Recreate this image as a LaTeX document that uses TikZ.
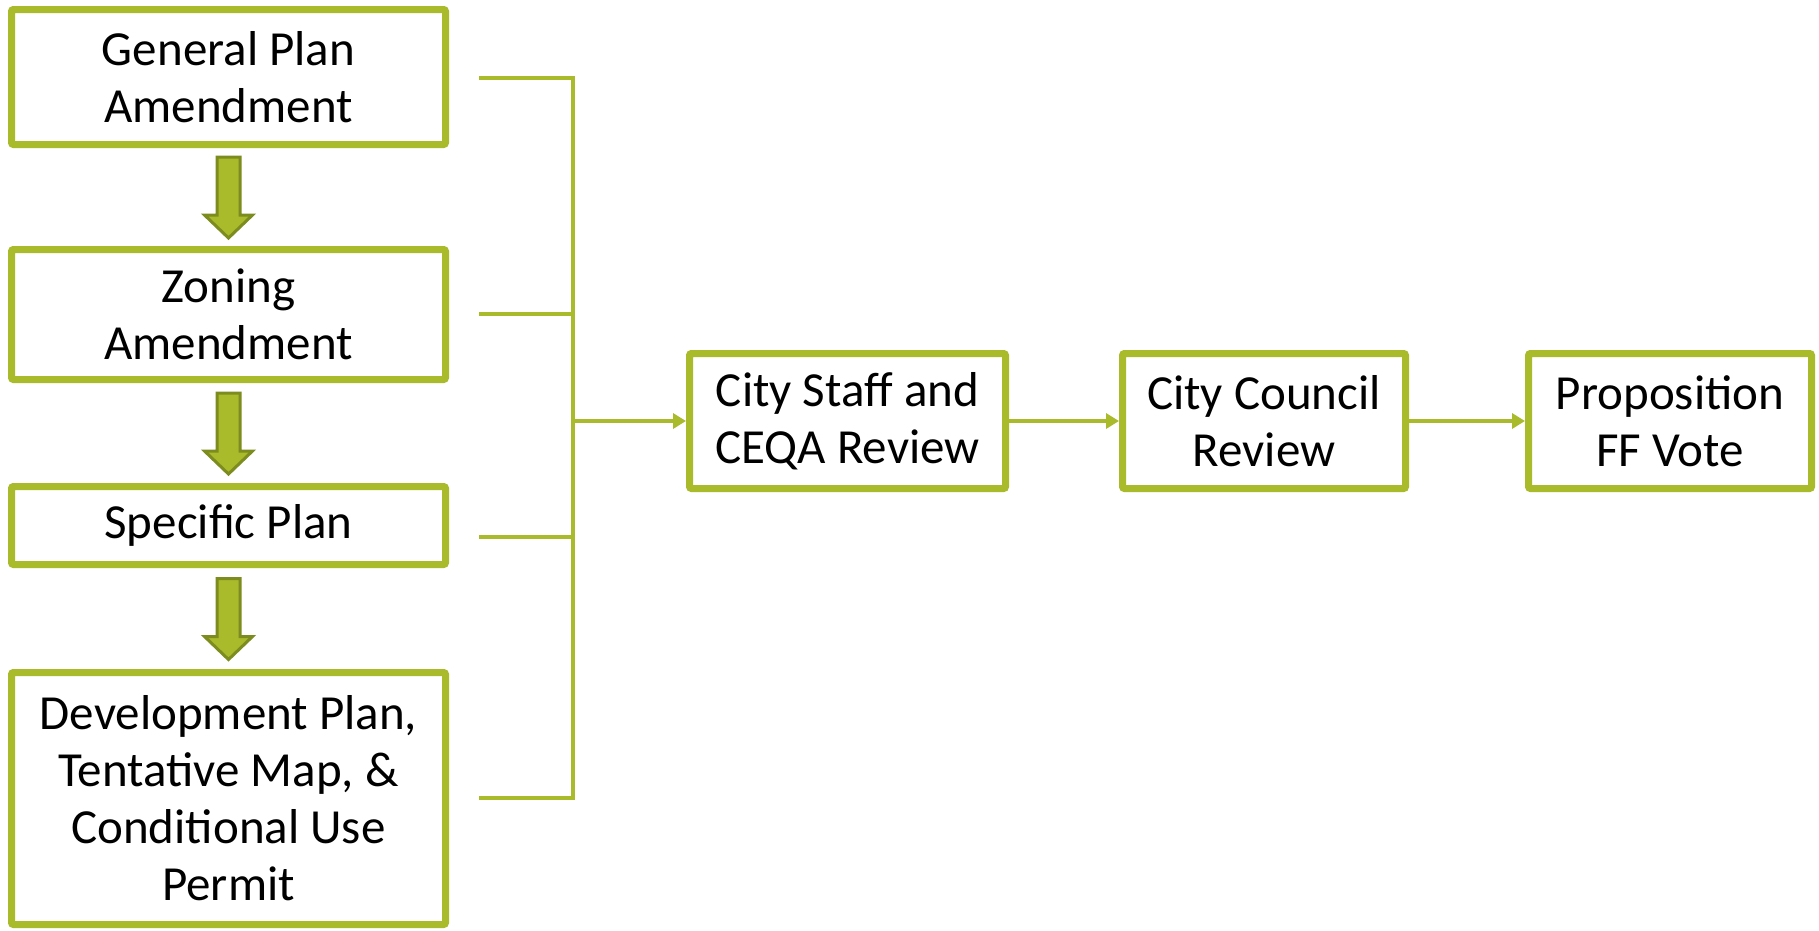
\documentclass[tikz,border=0pt]{standalone}
\usepackage{fontspec}
\setmainfont{Carlito}
\usetikzlibrary{arrows.meta,calc}
\definecolor{lg}{HTML}{A9BA2B}
\definecolor{dg}{HTML}{7D8C1F}
\tikzset{
  box/.style={draw=lg, line width=7pt, rounded corners=2pt, fill=white, align=center,
    font=\fontsize{49}{57}\selectfont, inner sep=0pt},
  conn/.style={draw=lg, line width=4pt},
  arr/.style={conn, -{Triangle[length=13pt,width=15pt]}},
  blk/.style={draw=dg, fill=lg, line width=3pt, line join=miter},
}
\begin{document}
\begin{tikzpicture}[x=1pt,y=-1pt]
\useasboundingbox[fill=white] (0,0) rectangle (1819,930);
\node[box, minimum width=434pt, minimum height=135pt] (b1) at (228.5,77) {General Plan\\Amendment};
\node[box, minimum width=434pt, minimum height=130pt] (b2) at (228.5,314.5) {Zoning\\Amendment};
\node[box, minimum width=434pt, minimum height=78pt] (b3) at (228.5,525.5) {Specific Plan};
\node[box, minimum width=434pt, minimum height=252pt] (b4) at (228.5,798.5) {Development Plan,\\Tentative Map, \&\\Conditional Use\\Permit};
\node[box, minimum width=316pt, minimum height=135pt] (c1) at (847.5,421) {City Staff and\\CEQA Review};
\node[box, minimum width=283pt, minimum height=135pt] (c2) at (1264,421) {City Council\\Review};
\node[box, minimum width=283pt, minimum height=135pt] (c3) at (1670,421) {Proposition\\FF Vote};
% block arrows
\foreach \a/\b in {b1/b2,b2/b3,b3/b4}{
  \coordinate (m) at ($(\a.south)!0.5!(\b.north)$);
  \draw[blk] ($(m)+(-11.5,-40)$) -- ($(m)+(11.5,-40)$) -- ($(m)+(11.5,18)$) -- ($(m)+(24,18)$)
    -- ($(m)+(0,41)$) -- ($(m)+(-24,18)$) -- ($(m)+(-11.5,18)$) -- cycle;
}
% bracket
\coordinate (j) at (573,421);
\draw[conn] ([xshift=30pt]b1.east |- 0,78) -| (j);
\draw[conn] ([xshift=30pt]b4.east |- 0,798) -| (j);
\draw[conn] ([xshift=30pt]b2.east |- 0,314) -- (j |- 0,314);
\draw[conn] ([xshift=30pt]b3.east |- 0,537) -- (j |- 0,537);
\draw[arr] (j) -- (c1.west);
\draw[arr] (c1.east) -- (c2.west);
\draw[arr] (c2.east) -- (c3.west);
\end{tikzpicture}
\end{document}
